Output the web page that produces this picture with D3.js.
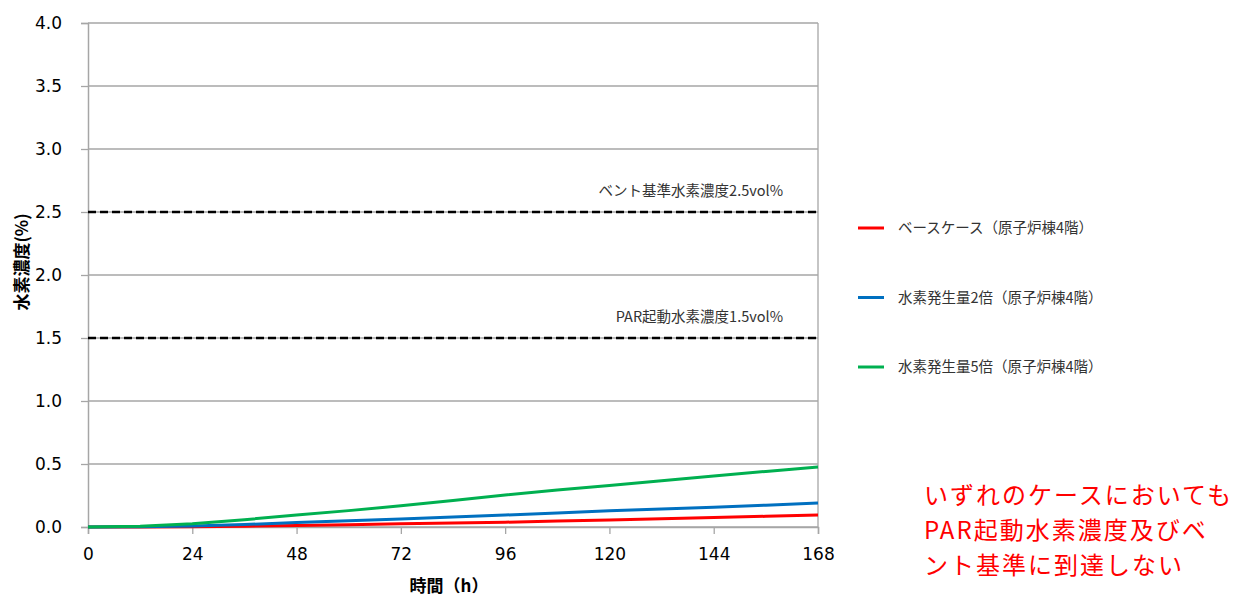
<!DOCTYPE html>
<html><head><meta charset="utf-8">
<script src="https://cdn.jsdelivr.net/npm/d3@7"></script>
<style>body{margin:0;background:#fff}svg{display:block}</style>
</head><body><svg id="c" width="1238" height="596"></svg>
<script>
const hours = [0, 12, 24, 36, 48, 60, 72, 84, 96, 108, 120, 132, 144, 156, 168];
const baseCase = [0, 0.0, 0.002, 0.006, 0.012, 0.018, 0.025, 0.031, 0.038, 0.047, 0.056, 0.065, 0.075, 0.085, 0.095];
const twiceCase = [0, 0.001, 0.008, 0.02, 0.035, 0.049, 0.063, 0.079, 0.095, 0.112, 0.129, 0.143, 0.157, 0.173, 0.19];
const fiveCase = [0, 0.005, 0.025, 0.058, 0.095, 0.13, 0.168, 0.21, 0.254, 0.293, 0.33, 0.368, 0.405, 0.441, 0.477];
const seriesNames = ["ベースケース（原子炉棟4階）", "水素発生量2倍（原子炉棟4階）", "水素発生量5倍（原子炉棟4階）"];
const seriesColors = ["#ff0000", "#0070c0", "#00b050"];
const xTicks = [0, 24, 48, 72, 96, 120, 144, 168];
const yTicks = [0, 0.5, 1.0, 1.5, 2.0, 2.5, 3.0, 3.5, 4.0];
const thresholds = [2.5, 1.5];
const thresholdLabels = ["ベント基準水素濃度2.5vol%", "PAR起動水素濃度1.5vol%"];
const noteLines = ["いずれのケースにおいても", "PAR起動水素濃度及びベ", "ント基準に到達しない"];

const svg = d3.select("#c");
const L = 88, R = 818, T = 23, B = 527;
const x = d3.scaleLinear().domain([0, 168]).range([L, R]);
const y = d3.scaleLinear().domain([0, 4]).range([B, T]);
const font = "'DejaVu Sans',sans-serif";
const jp = "'Noto Sans CJK JP','Noto Sans',sans-serif";
const grid = "#a6a6a6";

// gridlines
svg.append("g").selectAll("line").data(yTicks).join("line")
  .attr("x1", L).attr("x2", R).attr("y1", d => y(d)).attr("y2", d => y(d))
  .attr("stroke", grid).attr("stroke-width", 1.3);
// right border
svg.append("line").attr("x1", R).attr("x2", R).attr("y1", T).attr("y2", B).attr("stroke", grid).attr("stroke-width", 1.3);

// y axis
const ya = svg.append("g").attr("transform", `translate(${L},0)`)
  .call(d3.axisLeft(y).tickValues(yTicks).tickFormat(d3.format(".1f")).tickSize(7).tickPadding(19));
ya.select(".domain").attr("stroke", grid).attr("stroke-width", 1.5);
ya.selectAll(".tick line").attr("stroke", grid).attr("stroke-width", 1.3);
ya.selectAll("text").attr("font-family", font).attr("font-size", 17).attr("fill", "#000");

// x axis
const xa = svg.append("g").attr("transform", `translate(0,${B})`)
  .call(d3.axisBottom(x).tickValues(xTicks).tickSize(7).tickPadding(14));
xa.select(".domain").attr("stroke", grid).attr("stroke-width", 1.5);
xa.selectAll(".tick line").attr("stroke", grid).attr("stroke-width", 1.3);
xa.selectAll("text").attr("font-family", font).attr("font-size", 17).attr("fill", "#000");

// thresholds
svg.append("g").selectAll("line").data(thresholds).join("line")
  .attr("x1", L).attr("x2", R).attr("y1", d => y(d)).attr("y2", d => y(d))
  .attr("stroke", "#000").attr("stroke-width", 2.6).attr("stroke-dasharray", "8,4");
svg.append("g").selectAll("text").data(thresholds).join("text")
  .attr("x", 783).attr("y", d => y(d) - 16.5).attr("text-anchor", "end")
  .attr("font-family", jp).attr("font-size", 14.5).attr("fill", "#333")
  .text((d, i) => thresholdLabels[i]);

// series lines
const data = [baseCase, twiceCase, fiveCase];
const line = d3.line().x((d, i) => x(hours[i])).y(d => y(d));
svg.append("g").selectAll("path").data(data).join("path")
  .attr("d", line).attr("fill", "none")
  .attr("stroke", (d, i) => seriesColors[i]).attr("stroke-width", 3);

// legend
const lg = svg.append("g").selectAll("g").data(seriesNames).join("g")
  .attr("transform", (d, i) => `translate(858,${228 + i * 69.5})`);
lg.append("line").attr("x1", 0).attr("x2", 26).attr("stroke", (d, i) => seriesColors[i]).attr("stroke-width", 3);
lg.append("text").attr("x", 40).attr("y", 5).attr("font-family", jp).attr("font-size", 14.5).attr("fill", "#333").text(d => d);

// axis titles
svg.append("text").attr("transform", "translate(28,262) rotate(-90)").attr("text-anchor", "middle")
  .attr("font-family", jp).attr("font-weight", "bold").attr("font-size", 17).attr("fill", "#000").text("水素濃度(%)");
svg.append("text").attr("x", 449).attr("y", 592).attr("text-anchor", "middle")
  .attr("font-family", jp).attr("font-weight", "bold").attr("font-size", 17).attr("fill", "#000").text("時間（h）");

// note
svg.append("g").selectAll("text").data(noteLines).join("text")
  .attr("x", 924).attr("y", (d, i) => 504 + i * 34.8)
  .attr("font-family", jp).attr("font-size", 24).attr("letter-spacing", 2).attr("fill", "#ff0000").text(d => d);
</script></body></html>
